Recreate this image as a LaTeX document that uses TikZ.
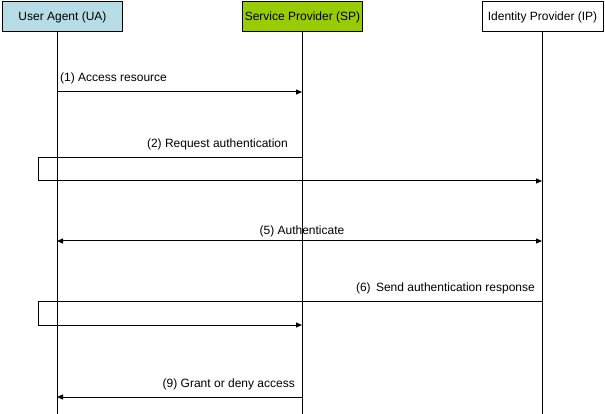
\documentclass[tikz,border=0pt]{standalone}
\usepackage{fontspec}
\setmainfont{Liberation Sans}
\usetikzlibrary{arrows.meta}
\definecolor{uafill}{RGB}{182,220,230}
\definecolor{spfill}{RGB}{153,204,0}
\begin{document}
\begin{tikzpicture}[x=1pt,y=-1pt,
  actor/.style={draw=black,line width=1pt,minimum height=30pt,inner sep=0pt,font=\fontsize{12}{14}\selectfont},
  life/.style={line width=1pt},
  msg/.style={line width=1pt,-{Triangle[length=6pt,width=5pt]}},
  dmsg/.style={line width=1pt,{Triangle[length=6pt,width=5pt]}-{Triangle[length=6pt,width=5pt]}},
  lbl/.style={inner sep=0pt,font=\fontsize{12}{14}\selectfont}]
\path[fill=white,use as bounding box] (0,0) rectangle (605,414);
% actors
\node[actor,fill=uafill,minimum width=120pt] (ua) at (62.5,17) {User Agent (UA)};
\node[actor,fill=spfill,minimum width=120pt] (sp) at (302.5,17) {Service Provider (SP)};
\node[actor,fill=white,minimum width=121pt] (ip) at (542.5,17) {Identity Provider (IP)};
% lifelines
\coordinate (uat) at (57,32);  \coordinate (uab) at (57,414);
\coordinate (spt) at (302,32); \coordinate (spb) at (302,414);
\coordinate (ipt) at (542,32); \coordinate (ipb) at (542,414);
\draw[life] (uat) -- (uab);
\draw[life] (spt) -- (spb);
\draw[life] (ipt) -- (ipb);
% (1)
\coordinate (ua1) at (57,92); \coordinate (sp1) at (302,92);
\draw[msg] (ua1) -- (sp1);
\node[lbl,anchor=west] (l1) at (60,78.5) {(1) Access resource};
% (2)
\coordinate (sp2) at (302,157.5); \coordinate (c2a) at (38,157.5);
\coordinate (c2b) at (38,181); \coordinate (ip2) at (542,181);
\draw[msg] (sp2) -- (c2a) -- (c2b) -- (ip2);
\node[lbl,anchor=east] (l2) at (288,144.5) {(2) Request authentication};
% (5)
\coordinate (ua5) at (57,241); \coordinate (ip5) at (542,241);
\draw[dmsg] (ua5) -- (ip5);
\node[lbl] (l5) at (302,231) {(5) Authenticate};
% (6)
\coordinate (ip6) at (542,301.5); \coordinate (c6a) at (38,301.5);
\coordinate (c6b) at (38,325); \coordinate (sp6) at (302,325);
\draw[msg] (ip6) -- (c6a) -- (c6b) -- (sp6);
\node[lbl,anchor=east] (l6) at (535,288.5) {(6)\, Send authentication response};
% (9)
\coordinate (sp9) at (302,397); \coordinate (ua9) at (57,397);
\draw[msg] (sp9) -- (ua9);
\node[lbl,anchor=east] (l9) at (295,384.5) {(9) Grant or deny access};
\end{tikzpicture}
\end{document}
